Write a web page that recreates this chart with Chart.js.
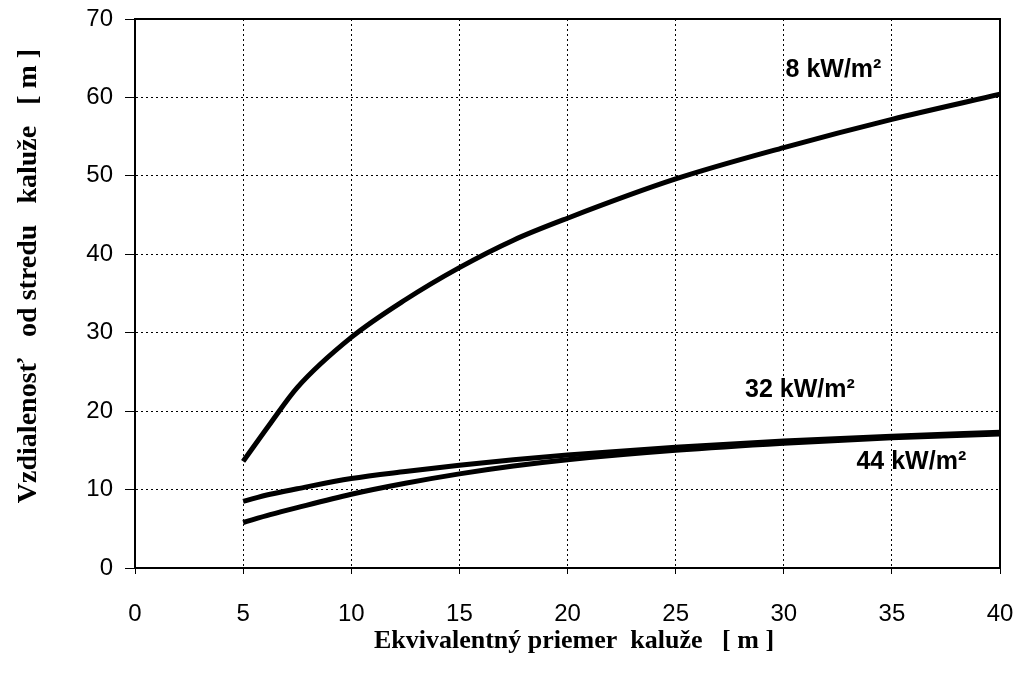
<!DOCTYPE html>
<html><head><meta charset="utf-8">
<script src="https://cdn.jsdelivr.net/npm/chart.js@4/dist/chart.umd.min.js"></script>
<style>html,body{margin:0;padding:0;background:#fff;} #wrap{width:1024px;height:681px;}</style>
</head><body><div id="wrap"><canvas id="c" width="1024" height="681"></canvas></div>
<script>
// Data
const diameters = [5, 6.25, 7.5, 10, 12.5, 15, 17.5, 20, 25, 30, 35, 40];
const dist8  = [13.6, 18.4, 23.0, 29.4, 34.2, 38.3, 41.8, 44.6, 49.6, 53.6, 57.2, 60.4];
const dist32 = [8.5, 9.4, 10.1, 11.4, 12.3, 13.1, 13.8, 14.4, 15.4, 16.2, 16.8, 17.3];
const dist44 = [5.8, 6.8, 7.7, 9.4, 10.8, 12.0, 13.0, 13.8, 15.0, 15.9, 16.6, 17.1];
const seriesNames = ['8 kW/m²', '32 kW/m²', '44 kW/m²'];
const seriesLabelX = [32.3, 30.75, 35.9];
const seriesLabelY = [63.5, 22.7, 13.5];
const xTitle = '  Ekvivalentný priemer  kaluže   [ m ]';
const yTitle = '     Vzdialenosť   od stredu   kaluže   [ m ]';

const toPts = vals => diameters.map((d, i) => ({x: d, y: vals[i]}));
const allSeries = [dist8, dist32, dist44];

const framePlugin = {
  id: 'frame',
  afterDatasetsDraw(chart) {
    const {ctx, chartArea: a} = chart;
    ctx.save();
    ctx.strokeStyle = '#000';
    ctx.lineWidth = 2;
    ctx.strokeRect(a.left, a.top, a.right - a.left, a.bottom - a.top);
    ctx.restore();
  },
  afterDraw(chart) {
    const {ctx} = chart;
    const xs = chart.scales.x, ys = chart.scales.y;
    ctx.save();
    ctx.fillStyle = '#000';
    ctx.font = 'bold 25px "Liberation Sans", Arial, sans-serif';
    ctx.textAlign = 'center';
    ctx.textBaseline = 'middle';
    seriesNames.forEach((n, i) => {
      ctx.fillText(n, xs.getPixelForValue(seriesLabelX[i]), ys.getPixelForValue(seriesLabelY[i]));
    });
    ctx.restore();
  }
};

new Chart(document.getElementById('c'), {
  type: 'line',
  data: {
    datasets: allSeries.map((v, i) => ({
      label: seriesNames[i],
      data: toPts(v),
      borderColor: '#000',
      borderWidth: 5,
      pointRadius: 0,
      cubicInterpolationMode: 'monotone',
      fill: false
    }))
  },
  options: {
    responsive: false,
    animation: false,
    devicePixelRatio: 1,
    layout: {autoPadding: false, padding: {top: 19, right: 24, left: 0, bottom: 0}},
    plugins: {legend: {display: false}, tooltip: {enabled: false}},
    scales: {
      x: {
        type: 'linear', min: 0, max: 40,
        afterFit: s => { s.height = 113; s.paddingLeft = 0; s.paddingRight = 0; },
        ticks: {stepSize: 5, color: '#000', padding: 26, maxRotation: 0,
          font: {family: '"Liberation Sans", Arial, sans-serif', size: 24}},
        grid: {color: '#000', lineWidth: 1, tickLength: 6, tickColor: '#000'},
        border: {display: true, color: '#000', width: 2, dash: [2, 3]},
        title: {display: true, text: xTitle, color: '#000', padding: {top: 0, bottom: 24},
          font: {family: '"Liberation Serif", "Times New Roman", serif', size: 26, weight: 'bold'}}
      },
      y: {
        type: 'linear', min: 0, max: 70,
        afterFit: s => { s.width = 135; s.paddingTop = 0; s.paddingBottom = 0; },
        ticks: {stepSize: 10, color: '#000', padding: 12,
          font: {family: '"Liberation Sans", Arial, sans-serif', size: 24}},
        grid: {color: '#000', lineWidth: 1, tickLength: 10, tickColor: '#000'},
        border: {display: true, color: '#000', width: 2, dash: [2, 3]},
        title: {display: true, text: yTitle, color: '#000', padding: {top: 12, bottom: 0},
          font: {family: '"Liberation Serif", "Times New Roman", serif', size: 28, weight: 'bold'}}
      }
    }
  },
  plugins: [framePlugin]
});
</script>
</body></html>
